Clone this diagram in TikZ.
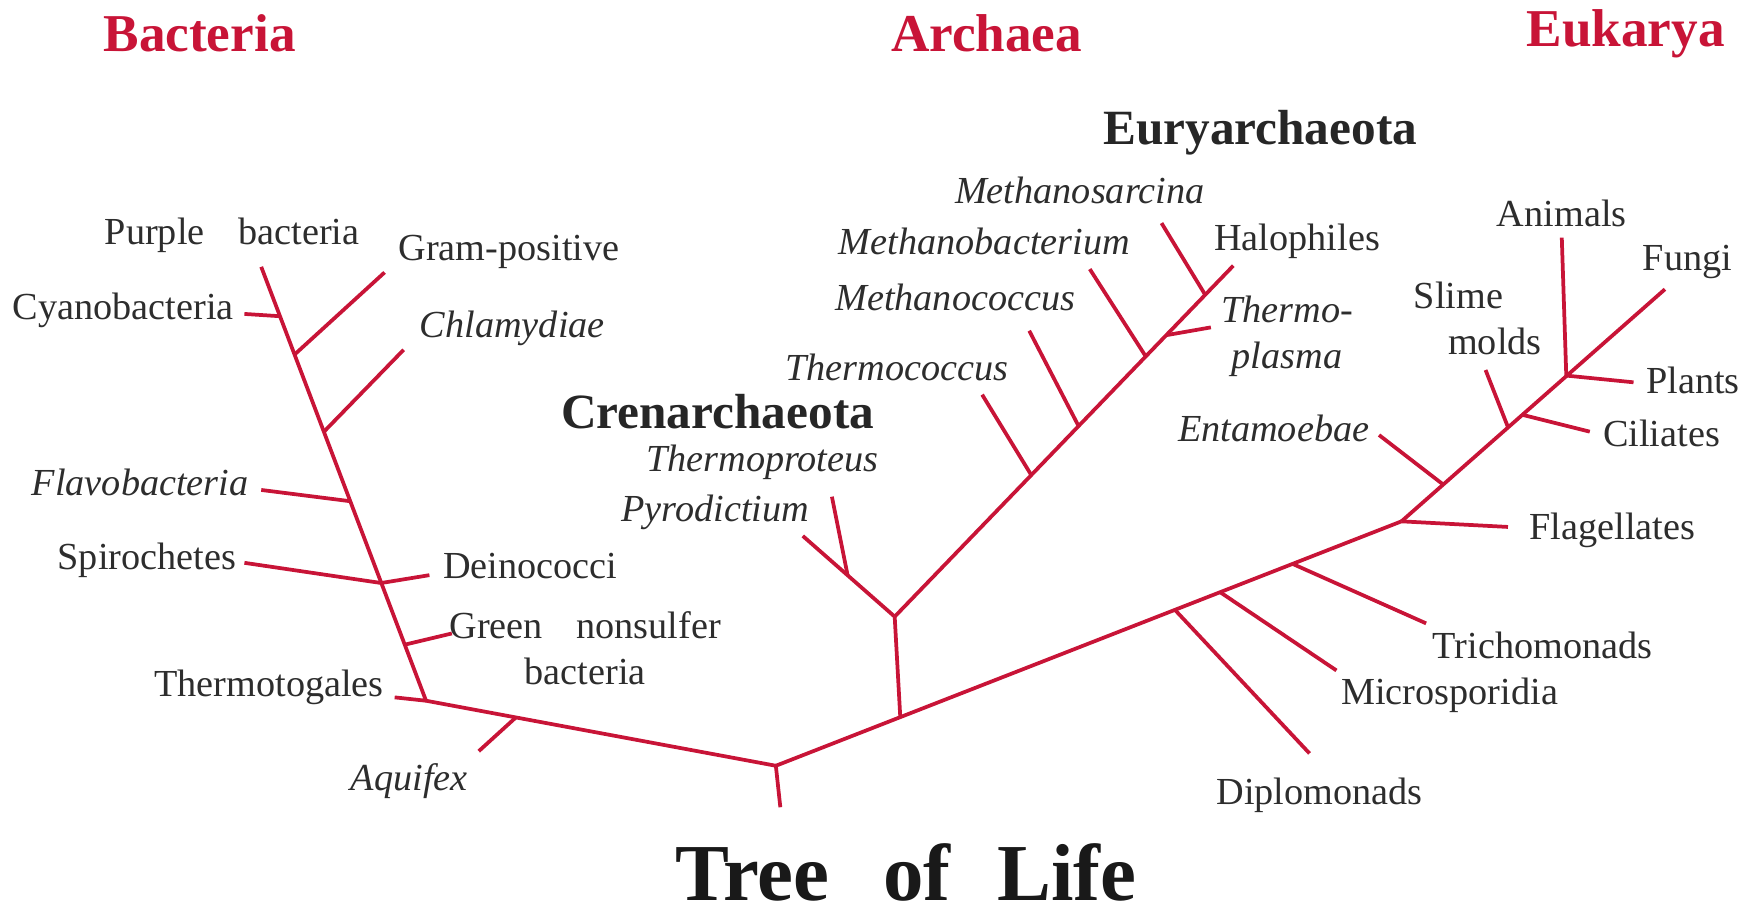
\documentclass[tikz,border=0pt]{standalone}
\usepackage{fontspec}
\setmainfont{Liberation Serif}
\usetikzlibrary{positioning,calc}
\definecolor{treered}{RGB}{200,20,55}
\definecolor{labelgray}{RGB}{45,45,45}
\tikzset{
  branch/.style={draw=treered, line width=0.95pt, line join=round},
  taxon/.style={text=labelgray, font=\fontsize{9.7}{11.7}\selectfont, inner sep=1pt, align=center},
  taxonit/.style={taxon, font=\fontsize{9.7}{11.7}\selectfont\itshape},
  domainlabel/.style={text=treered, font=\fontsize{13.5}{16}\selectfont\bfseries},
  phylum/.style={text=black!85, font=\fontsize{12.5}{15}\selectfont\bfseries},
  bigtitle/.style={text=black!90, inner sep=0pt, font=\fontsize{20.5}{24}\selectfont\bfseries}
}

\begin{document}
\begin{tikzpicture}[x=0.01cm, y=-0.01cm]
\useasboundingbox (0,0) rectangle (1568,815);

% junctions
\coordinate (root) at (692,683);
\coordinate (base) at (696,720);
\coordinate (bj) at (380,625);
\coordinate (aj) at (803,640);
\coordinate (ac) at (798,550);
\coordinate (fj) at (1250,465);

% bacteria
\coordinate (aqj) at (460,640);   \coordinate (aq) at (427,670);
\coordinate (tg) at (352,622);
\coordinate (pb) at (233,238);
\coordinate (gnj) at (361,575);   \coordinate (gn) at (403,565);
\coordinate (dsj) at (340,520);   \coordinate (dc) at (383,513);  \coordinate (sp) at (218,502);
\coordinate (flj) at (312,447);   \coordinate (fl) at (233,437);
\coordinate (chj) at (289,385);   \coordinate (ch) at (360,312);
\coordinate (gpj) at (263,316);   \coordinate (gp) at (343,243);
\coordinate (cyj) at (249,282);   \coordinate (cy) at (218,280);

% archaea
\coordinate (py) at (716,478);
\coordinate (tpj) at (756,513);   \coordinate (tp) at (742,443);
\coordinate (ha) at (1100,237);
\coordinate (tcj) at (920,424);   \coordinate (tc) at (876,352);
\coordinate (mcj) at (962,380);   \coordinate (mc) at (918,295);
\coordinate (mbj) at (1022,318);  \coordinate (mb) at (972,240);
\coordinate (tmj) at (1040,299);  \coordinate (tm) at (1080,292);
\coordinate (msj) at (1075,263);  \coordinate (ms) at (1036,199);

% eukarya
\coordinate (dpj) at (1048,544);  \coordinate (dp) at (1168,672);
\coordinate (mij) at (1088,528);  \coordinate (mi) at (1192,598);
\coordinate (trj) at (1153,503);  \coordinate (tr) at (1272,556);
\coordinate (fg) at (1345,470);
\coordinate (fu) at (1485,258);
\coordinate (enj) at (1287,432);  \coordinate (en) at (1230,388);
\coordinate (slj) at (1345,381);  \coordinate (sl) at (1325,330);
\coordinate (cij) at (1358,370);  \coordinate (ci) at (1418,385);
\coordinate (paj) at (1397,335);  \coordinate (pl) at (1457,341);  \coordinate (an) at (1393,212);

% branches
\foreach \a/\b in {root/base, root/bj, aqj/aq, bj/tg, bj/pb, gnj/gn, dsj/dc, dsj/sp,
    flj/fl, chj/ch, gpj/gp, cyj/cy,
    root/fj, aj/ac, ac/py, tpj/tp, ac/ha, tcj/tc, mcj/mc, mbj/mb, tmj/tm, msj/ms,
    dpj/dp, mij/mi, trj/tr, fj/fg, fj/fu, enj/en, slj/sl, cij/ci, paj/pl, paj/an}
  \draw[branch] (\a) -- (\b);

% domains and groups
\node[domainlabel] (bacteria) at (178,30) {Bacteria};
\node[domainlabel] (archaea) at (880,30) {Archaea};
\node[domainlabel] (eukarya) at (1450,30) {Eukarya};
\node[phylum] (eury) at (1124,118) {Euryarchaeota};
\node[phylum] (cren) at (640,367) {Crenarchaeota};
\node[bigtitle] (tol) at (808,778) {Tree\hspace{0.48cm}of\hspace{0.42cm}Life};

% bacteria labels
\node[taxon] (lpb) at (207,210) {Purple\hspace{0.3cm}bacteria};
\node[taxon] (lgp) at (454,225) {Gram-positive};
\node[taxon] (lcy) at (110,277) {Cyanobacteria};
\node[taxonit] (lch) at (457,293) {Chlamydiae};
\node[taxonit] (lfl) at (125,430) {Flavobacteria};
\node[taxon] (lsp) at (131,500) {Spirochetes};
\node[taxon] (ldc) at (473,505) {Deinococci};
\node[taxon] (lgn) at (522,578) {Green\hspace{0.3cm}nonsulfer\\bacteria};
\node[taxon] (ltg) at (240,613) {Thermotogales};
\node[taxonit] (laq) at (365,697) {Aquifex};

% archaea labels
\node[taxonit] (lms) at (963,170) {Methanosarcina};
\node[taxonit] (lmb) at (878,215) {Methanobacterium};
\node[taxonit] (lmc) at (852,265) {Methanococcus};
\node[taxonit] (ltc) at (800,328) {Thermococcus};
\node[taxon] (lha) at (1157,215) {Halophiles};
\node[taxonit] (ltm) at (1148,300) {Thermo-\\plasma};
\node[taxonit] (ltp) at (680,412) {Thermoproteus};
\node[taxonit] (lpy) at (638,457) {Pyrodictium};

% eukarya labels
\node[taxon] (ldp) at (1177,709) {Diplomonads};
\node[taxon] (lmi) at (1293,620) {Microsporidia};
\node[taxon] (ltr) at (1376,576) {Trichomonads};
\node[taxon] (lfg) at (1438,473) {Flagellates};
\node[taxonit] (len) at (1136,382) {Entamoebae};
\node[taxon] (lci) at (1482,387) {Ciliates};
\node[taxon, align=left] (lsl) at (1318,284) {Slime\\\hspace{0.9em}molds};
\node[taxon] (lpl) at (1510,339) {Plants};
\node[taxon] (lan) at (1393,190) {Animals};
\node[taxon] (lfu) at (1505,234) {Fungi};
\end{tikzpicture}
\end{document}
